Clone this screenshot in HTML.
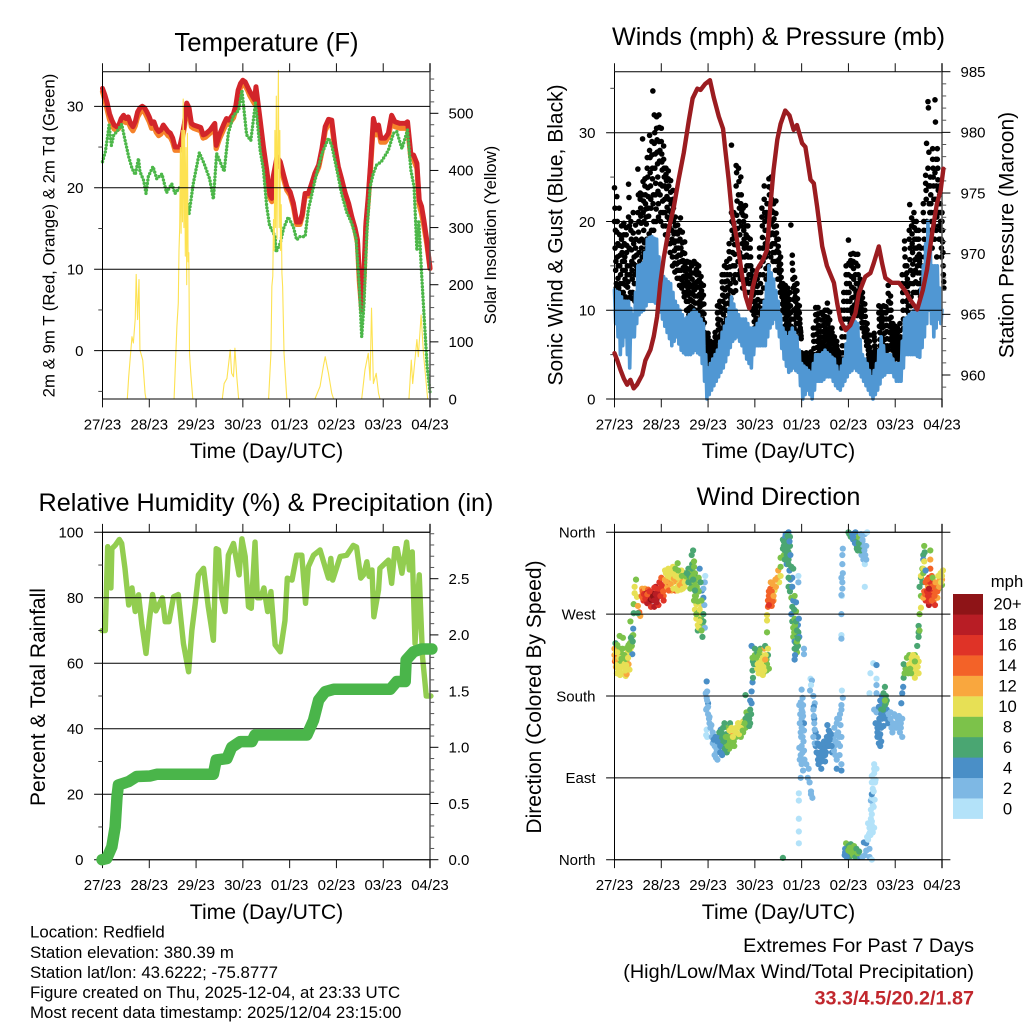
<!DOCTYPE html>
<html lang="en">
<head>
<meta charset="utf-8">
<title>Redfield Station Meteogram</title>
<style>
html,body{margin:0;padding:0;background:#fff;}
svg{display:block;font-family:"Liberation Sans",Arial,sans-serif;fill:#000;}
</style>
</head>
<body>
<svg id="chart" xmlns="http://www.w3.org/2000/svg" width="1024" height="1024" viewBox="0 0 1024 1024">
<rect x="0" y="0" width="1024" height="1024" fill="#ffffff"/>
<g id="panel-temp"></g>
<g id="panel-wind"></g>
<g id="panel-rh"></g>
<g id="panel-dir"></g>
<g id="colorbar"></g>

<text x="266.5" y="51" font-size="25.7" text-anchor="middle">Temperature (F)</text>
<text x="778.5" y="45" font-size="25.2" text-anchor="middle">Winds (mph) &amp; Pressure (mb)</text>
<text x="266" y="511" font-size="25.2" text-anchor="middle">Relative Humidity (%) &amp; Precipitation (in)</text>
<text x="778.5" y="505" font-size="25.2" text-anchor="middle">Wind Direction</text>

<text x="266.5" y="458" font-size="21.2" text-anchor="middle">Time (Day/UTC)</text>
<text x="778.5" y="458" font-size="21.2" text-anchor="middle">Time (Day/UTC)</text>
<text x="266.5" y="919" font-size="21.2" text-anchor="middle">Time (Day/UTC)</text>
<text x="778.5" y="919" font-size="21.2" text-anchor="middle">Time (Day/UTC)</text>

<text transform="translate(54.5 235.5) rotate(-90)" font-size="16.8" text-anchor="middle">2m &amp; 9m T (Red, Orange) &amp; 2m Td (Green)</text>
<text transform="translate(496 235) rotate(-90)" font-size="16.7" text-anchor="middle">Solar Insolation (Yellow)</text>
<text transform="translate(562.5 235) rotate(-90)" font-size="21" text-anchor="middle">Sonic Wind &amp; Gust (Blue, Black)</text>
<text transform="translate(1013.5 235) rotate(-90)" font-size="21" text-anchor="middle">Station Pressure (Maroon)</text>
<text transform="translate(45 697) rotate(-90)" font-size="21" text-anchor="middle">Percent &amp; Total Rainfall</text>
<text transform="translate(541 697) rotate(-90)" font-size="21" text-anchor="middle">Direction (Colored By Speed)</text>

<g font-size="16.83">
<text x="30" y="937.5">Location: Redfield</text>
<text x="30" y="958">Station elevation: 380.39 m</text>
<text x="30" y="978">Station lat/lon: 43.6222; -75.8777</text>
<text x="30" y="998">Figure created on Thu, 2025-12-04, at 23:33 UTC</text>
<text x="30" y="1018">Most recent data timestamp: 2025/12/04 23:15:00</text>
</g>
<g text-anchor="end">
<text x="974" y="952" font-size="19.8">Extremes For Past 7 Days</text>
<text x="974" y="978" font-size="19.8">(High/Low/Max Wind/Total Precipitation)</text>
<text x="974" y="1004.5" font-size="19.8" font-weight="bold" fill="#c1272d">33.3/4.5/20.2/1.87</text>
</g>

<script>
// ---------- shared axis labels ----------
const dayLabels = ['27/23','28/23','29/23','30/23','01/23','02/23','03/23','04/23'];

// ---------- temperature panel ----------
const tempDays = [0,.05,.1,.15,.2,.25,.3,.35,.4,.45,
 .5,.55,.6,.65,.7,.75,.8,.85,.9,.95,
 1,1.05,1.1,1.15,1.2,1.25,1.3,1.35,1.4,1.45,
 1.5,1.55,1.6,1.65,1.7,1.75,1.8,1.85,1.9,1.95,
 2,2.1,2.15,2.2,2.3,2.4,2.43,2.5,2.6,2.65,
 2.7,2.8,2.85,2.9,2.95,3,3.05,3.1,3.15,3.25,
 3.28,3.37,3.44,3.51,3.58,3.62,3.65,3.73,3.8,3.87,
 3.94,4.01,4.08,4.15,4.22,4.27,4.33,4.4,4.47,4.54,
 4.62,4.69,4.76,4.83,4.9,4.97,5.04,5.11,5.19,5.26,
 5.33,5.4,5.45,5.49,5.54,5.59,5.63,5.68,5.73,5.79,
 5.85,5.9,5.95,6.04,6.11,6.18,6.25,6.36,6.47,6.52,
 6.59,6.65,6.72,6.77,6.82,6.87,6.93,7];
const temp2m = [32.2,31.4,30.4,29.1,28.3,27.7,27.5,27.7,28.5,28.9,
 28.5,28.7,27.9,27.5,28.1,29.3,29.8,30,29.8,29.3,
 28.7,27.9,28.1,27.3,26.9,27.1,27.7,27.3,26.9,26.7,
 26.1,25,25,25,26.3,27.9,30.4,29.8,27.9,27.7,
 27.6,27.4,26.5,26.6,27.1,27.9,25.2,26.5,27.9,28.5,
 28.3,29.1,30.1,32,32.8,33.2,33,32.4,31.8,30.8,
 32.4,28.3,25,22.2,19.1,18.7,21.4,23.8,23.2,21.6,
 20.1,19.5,18.1,15.8,15.8,16.8,19.3,19.3,20.5,21.8,
 22.8,24.8,27.5,28.4,28.3,25,22.6,21.1,19.3,18.1,
 16.4,15,13.6,9.5,5,9.9,15.6,18.9,23,28.5,
 27.1,27.7,26.1,26.1,26.7,28.9,28.1,27.9,27.9,28.1,
 24.2,24,23,18.5,17.7,16,13.6,10.1];
const temp9m = [31.8,30.8,29.6,28.4,27.7,27.2,27.1,27.3,28,28.4,
 28,28.1,27.4,27,27.6,28.7,29.2,29.5,29.3,28.7,
 28.1,27.3,27.5,26.8,26.4,26.6,27.2,26.8,26.4,26.2,
 25.6,24.6,24.6,24.6,25.9,27.4,29.8,29.3,27.5,27.3,
 27.2,27,26.1,26.2,26.7,27.4,24.8,26,27.3,27.9,
 27.8,28.6,29.6,31.5,32.3,32.8,32.5,32,31.3,30.3,
 31.8,27.8,24.6,21.8,18.7,18.3,21,23.2,22.7,21.1,
 19.7,19.1,17.7,15.5,15.5,16.5,19,19,20.2,21.5,
 22.5,24.4,27,27.9,27.8,24.6,22.2,20.8,19,17.8,
 16.1,14.7,13.2,8.5,5,8.9,15.2,18.4,22.5,27.9,
 26.5,27.1,25.6,25.6,26.2,28.3,27.5,27.3,27.3,27.5,
 23.7,23.4,22.4,17.9,16.8,15.3,13.2,10.1];
const dewDays = [0,.06,.11,.14,.19,.24,.31,.41,.48,.56,
 .63,.7,.77,.8,.88,.93,.98,1.08,1.16,1.27,
 1.37,1.48,1.55,1.66,1.77,1.85,1.94,2.07,2.17,2.29,
 2.37,2.44,2.5,2.6,2.69,2.8,2.91,2.98,3.08,3.17,
 3.27,3.37,3.44,3.51,3.57,3.69,3.71,3.8,3.87,3.97,
 4.08,4.15,4.22,4.33,4.4,4.54,4.69,4.83,4.9,5.01,
 5.11,5.22,5.33,5.42,5.49,5.54,5.59,5.65,5.72,5.79,
 5.86,5.96,6.11,6.22,6.29,6.4,6.52,6.59,6.66,6.72,
 6.76,6.82,6.87,6.94,7];
const dewPoint = [23.2,24.4,26.3,27.7,25.2,26.5,26.9,27.8,25.9,23.8,
 22.4,21.6,23.6,22,20.9,19.3,21.4,22.6,21.1,21.7,
 19.4,20.5,19.3,20.1,19.3,16.8,20.5,24.3,23,21.1,
 18.6,24.2,23.4,22,26.7,28.9,29.5,32,26.5,25.8,
 30.4,24.6,22.2,17.7,15.4,14,12.1,13.2,15,16.4,
 15.2,13.6,14,14,17.3,20.9,24.2,26.1,25.2,22.2,
 19.3,17,15.6,13.8,7.8,1.7,5.8,14.4,20.1,21.8,
 22.8,23.2,24.6,26.7,26.9,24.8,27.1,22.2,20.1,12.3,
 16,9.5,4.6,-2,-5.1];
const solarDays = [.53,.56,.63,.66,.7,.72,.75,.78,.8,.86,.91,.93,
 1.53,1.59,1.62,1.635,1.65,1.665,1.68,1.695,1.71,1.725,1.74,1.755,1.77,1.785,1.8,1.815,1.83,1.845,1.86,1.875,1.89,1.93,
 2.56,2.6,2.66,2.73,2.76,2.8,2.83,2.87,2.91,
 3.55,3.6,3.62,3.64,3.655,3.67,3.685,3.7,3.715,3.73,3.745,3.76,3.775,3.79,3.805,3.82,3.835,3.85,3.88,3.94,
 4.54,4.65,4.72,4.76,4.83,4.9,4.94,
 5.54,5.61,5.68,5.72,5.75,5.79,5.85,5.9,5.93,
 6.55,6.6,6.63,6.72,6.75,6.81,6.86,6.92,6.95];
const solarValues = [0,39,109,98,141,218,139,209,86,68,10,0,
 0,127,168,260,300,440,290,470,310,525,300,470,250,440,200,465,240,256,80,60,41,0,
 0,27,36,86,45,39,89,39,0,
 0,80,197,215,314,260,470,300,530,280,450,575,300,470,260,340,220,197,80,0,
 0,22,57,74,45,10,0,
 0,51,80,33,159,27,45,10,0,
 0,68,27,104,74,147,80,27,0];
const tempTicks = [0,10,20,30];
const tempMinorTicks = [-5,5,15,25];
const solarTicks = [0,100,200,300,400,500];
const solarMinorTicks = [20,40,60,80,120,140,160,180,220,240,260,280,320,340,360,380,420,440,460,480,520,540,560];

// ---------- winds panel ----------
const gustStepDays = 0.01;
const gustSpeeds = [
23.8,21.5,19,15.5,13, 22.8,20,17.5,15,12.5, 21.5,18.5,16.2,14,12, 19.5,17.2,15.5,13,11.5, 19.8,17.5,16,14.5,12.8,
18.5,16.5,14,12.6,11.2, 24.2,22.7,19.5,15,12, 20,18,15.5,13.5,11.3, 21,17.5,16,14,11.5, 19.6,18,16.2,14.5,11,
25.9,23,20,17.8,15.5, 23.2,21.5,19.8,18,16, 29.3,24.5,22.3,20,17.6, 24.8,23,21.4,19.7,18, 27.2,25,22.8,20.6,18.6,
29.7,27.2,24,21.5,19, 29,26,34.7,23,20, 32,30,27.6,24.3,21.4, 31.8,29.2,26.5,23.4,20.5, 32,30.6,28,24.2,21,
30.5,27.6,25.8,22.3,19.5, 28.5,26,24,21,18.5, 26,24.6,22.8,20.5,17.5, 25.7,24,21.2,19.3,16.5, 24.6,22,20.2,18,15,
23.5,21.5,18.6,16.7,14.3, 20.5,18.8,17,15.2,13.6, 19.6,17.8,16.2,14.5,12.8, 19,20.4,17,15.5,13.4, 18.8,16.5,14.8,13,11.5,
17.7,15.2,13.6,12,10, 15.5,14,12.5,11,9.5, 15.4,13.8,12,10.4,9, 15,13.5,11.8,10.2,9.3, 15.5,13,11.6,10,8.6,
15.2,14,12.6,10.8,9.2, 15,13.4,11.8,10.4,9, 13.8,12.2,10.6,9,7.5, 12.8,10.7,8.6,6.5,5, 7,5.5,4,3,2,
7.4,6.5,5.5,4.5,3.5, 6.5,5.7,4.8,4,3.5, 6.3,5.5,4.8,4.2,3.4, 7.5,6.5,5.6,4.8,4, 10.5,9,7.8,6.5,5,
11,9.8,8,6.7,5.2, 14,12.5,11,9.5,7.5, 15,13.2,11.5,10,8, 15.5,14,12.6,10.8,9, 17.5,15.8,14,12.2,10.5,
28.6,20,18,15,12, 21,18.5,16.3,14,12.2, 26.3,25.5,22.3,19.2,15.5, 26,24.5,21.5,18.5,14.5, 25,23,21,17.5,13.5,
21.5,20,18,16,13, 21.8,19.5,17.5,15,12, 19.5,17,15,13,11, 18,16,14,12,10, 14.5,12.5,11,9.5,8,
13,11,10,8.2,7.5, 13.5,12,10.5,9,8, 17,15,13,11,9.5, 21.5,19.5,17,14,11, 24,21,19,16,13.5,
20.5,22,18,16.5,14, 24.8,23,21,18.5,16, 25,22.5,20,17.5,15.5, 22,20.3,18.5,16.5,14.5, 22.3,19.5,18,15.5,13.5,
18,16.5,15,13.5,12, 16,14.5,13,11.5,10, 13,11.8,10.5,9,7.5, 12.8,11.5,10,8.5,7, 12.5,11,9.5,8,6.8,
12,10.5,19.6,9,7.5, 16.2,14.5,12.5,10,8, 13.7,12,11,9.5,7.6, 13,11.3,10,8.5,7, 10.5,9,8,7.5,6.8,
5.2,4.6,4,3.4,3, 5,4.4,3.8,3.2,3, 5.2,4.2,3.8,3.5,3, 4.7,4,3.5,3,2.5, 5.3,4.6,3.8,3.2,2.6,
8,6.5,5,4.2,3.5, 10.3,8.8,7.3,5.8,4.5, 10.3,9,7.6,6,5, 8.2,7,9.7,5.8,5, 9.5,8.3,7,6,5,
10,8.7,7.4,6,5, 10.8,9.2,7.8,6.4,5.2, 9.8,8,7,6.2,5, 8,7,6.2,5,4.5, 7,6,5.2,4.2,4,
6.5,5.6,4.8,4,3.5, 5.3,4.6,4,3.5,3, 10,8,6,4.5,3.5, 12,10,8,6,4.5, 15,13,11,9,7,
17.9,15.3,13,11,9, 16.3,15,12.6,10.3,9, 16.4,14.7,12.4,10.6,9.5, 16.3,15.3,13,11,9.8, 16.3,14,12.2,10.4,9.5,
13.5,11.7,10.3,9.2,8, 12,10.8,9.3,8,7, 10.7,9.3,8,7,6, 8.5,7.2,6,5,4.3, 7.2,5.8,4.8,4,3.2,
5.2,4.4,3.6,3,2.5, 7.4,6.6,5.5,4,2.8, 5.5,4.8,4,3.2,2.5, 10.5,9,7.5,6,4.5, 10.3,9.2,8,6.5,5,
10.5,9,7.4,6,5, 10.4,9,7.6,6,5.5, 12.8,11,9,7.5,6, 11.6,10,8.5,7,5.5, 8.5,7.5,6.5,5.5,4.5,
8.2,7.2,6.3,5.5,4.8, 8,7,6,5.2,4.3, 8.5,7,6,5,4, 14,12,10,8,6, 17.8,16,14,12,10,
15,13.5,12,10.5,9, 19,21.9,17,14.5,11.5, 20.4,18.6,16.5,14,12, 21,19.3,17,14.5,12, 20,18,16,14.2,12,
19,17.2,15.5,13,11.5, 17,15,13.5,11,10, 22,20,18,16,14, 25.2,23.5,28.8,19,16, 33.5,32.8,27.8,24,21,
25,23,21,19,17, 28.2,26,24,21,18, 33.7,31.2,27,24,20.5, 28.2,26,23.5,21,18, 24,22,20,18,16,
21,19,16.5,14,12.5];
const gustDenseStepDays = 0.0125;
const gustDenseSpeeds = [
20,17,14.5,12.5, 18.8,16,13.6,11.5, 17.3,15,13,11, 18,16.5,14.5,12, 18.5,15.5,13.5,11.5,
19.3,17.3,15,13.2, 20.5,17,14,11.5, 19,16.8,14.5,12, 18.7,15.2,13,11, 17,15,13,11,
21,18.8,16.5,14, 22.5,20.6,17,15, 23,21,19,16.5, 24,22,20.5,17, 26,23.8,21.5,17.5,
28,25.5,22.5,18, 27.5,24.8,22,19, 28.8,26,23,20, 30.5,27.8,25,22, 29,26.8,23,20,
29,26.7,24,21, 27,25,22.5,19.5, 25.3,23.7,21.6,18.5, 24.8,22.5,20.2,17.5, 23.3,21,19,16,
22.5,20,17.6,15.3, 19.5,17.8,16,14.5, 18.6,17,15.4,13.6, 18,16.2,14.5,12.5, 17.6,15.6,13.8,12,
16.4,14.4,12.8,11, 14.7,13.2,11.7,10.2, 14.6,12.9,11.2,9.7, 14.2,12.6,11,9.6, 14.2,12.3,10.8,9.3,
14.6,13.2,11.6,10, 14.2,12.6,11,9.6, 13,11.4,9.8,8.3, 11.7,9.6,7.5,5.7, 6.3,4.7,3.5,2.5,
7,6,5,4, 6.1,5.2,4.4,3.7, 5.9,5.1,4.5,3.8, 7,6,5.2,4.4, 9.7,8.4,7,5.7,
10.4,8.9,7.3,5.9, 13.2,11.7,10.2,8.5, 14,12.3,10.7,9, 14.8,13.3,11.7,9.9, 16.6,14.9,13,11.3,
21,19,16.5,13.5, 19.7,17.4,15,13.1, 24,20.7,17.3,14, 23,20,16.5,13.5, 22,19.5,16,12.5,
20.7,19,17,14.5, 20.6,18.5,16.2,13.5, 18.2,16,14,12, 17,15,13,11, 13.5,11.7,10.2,8.7,
12,10.5,9.1,7.8, 12.7,11.2,9.7,8.5, 16,14,12,10.2, 20.5,18.2,15.5,12.5, 22.5,20,17.5,14.7,
21,19,17.2,15, 23.9,22,19.7,17.2, 23.7,21.2,18.7,16.5, 21,19.4,17.5,15.5, 20.9,18.7,16.7,14.5,
17.2,15.7,14.2,12.7, 15.2,13.7,12.2,10.7, 12.4,11.1,9.7,8.2, 12.1,10.7,9.2,7.7, 11.7,10.2,8.7,7.4,
11.2,9.7,8.2,7, 15.3,13.5,11.2,9, 12.8,11.5,10.2,8.5, 12.2,10.6,9.2,7.7, 9.7,8.5,7.7,7.1,
4.9,4.3,3.7,3.2, 4.7,4.1,3.5,3.1, 4.7,4,3.6,3.2, 4.3,3.7,3.2,2.7, 4.9,4.2,3.5,2.9,
7.2,5.7,4.6,3.8, 9.5,8,6.5,5.1, 9.6,8.3,6.8,5.5, 7.6,6.4,8.9,5.4, 8.9,7.6,6.5,5.5,
9.3,8,6.7,5.5, 10,8.5,7.1,5.8, 8.9,7.5,6.6,5.6, 7.5,6.6,5.6,4.7, 6.5,5.6,4.7,4.1,
6,5.2,4.4,3.7, 5,4.3,3.7,3.2, 9,7,5.2,4, 11,9,7,5.2, 14,12,10,8,
14,12,10,8.5, 15.6,13.8,11.4,9.6, 15.5,13.5,11.5,10, 14,12,10.5,9.4, 15,13,11.3,9.9,
12.6,11,9.7,8.6, 11.4,10,8.6,7.5, 10,8.6,7.5,6.5, 7.8,6.6,5.5,4.6, 6.5,5.3,4.4,3.6,
4.8,4,3.3,2.7, 7,6,4.7,3.4, 5.1,4.4,3.6,2.8, 9.7,8.2,6.7,5.2, 9.7,8.6,7.2,5.7,
9.7,8.2,6.7,5.5, 9.7,8.3,6.8,5.7, 11.9,10,8.2,6.7, 10.8,9.2,7.7,6.2, 8,7,6,5,
7.7,6.7,5.9,5.1, 7.5,6.5,5.6,4.7, 7.7,6.5,5.5,4.5, 13,11,9,7, 16.9,15,13,11,
14.2,12.7,11.2,9.7, 18,15.7,13,10.5, 19.5,17.5,15.2,13, 20,18,15.7,13.2, 19,17,15,13,
18,16.3,14.2,12.2, 16,14.2,12.2,10.5, 21,19,17,15, 24.3,22.5,20,17.5, 26,24,22,19,
24,22,20,18, 27,25,22.5,19.5, 25.5,22.5,19,16, 27,24.7,22,19.5, 23,21,19,17,
20,17.7,15,13.2];
const windStepDays = 0.025;
const windSpeeds = [
 12.3,8.5,12.1,7, 12,5,11.5,6, 11,7,11,5, 11,3.5,10.2,7, 9.5,7,12,8.5,
 15,9.5,15.1,9.8, 15.3,10,16.5,10.5, 18,11,18.2,11, 18.3,11,18.1,10.8, 18,10.5,16,9.8,
 14,9,13.8,8.2, 13.5,7.5,13.2,6.8, 13,6,12,6.5, 11,7,10.5,6.2, 10,5.5,9.5,5.2,
 9,5,9.2,5, 9.5,5,9.7,5.2, 10,5.5,9.8,5.2, 9.5,5,9,4, 8.5,2,5,0,
 3.5,.5,4,1, 4.5,1.5,5,2, 5.5,2.5,6.5,3, 7.5,3.5,8.2,4.2, 9,5,10.2,5.8,
 11.5,6.5,10.7,6.8, 10,7,9.5,6.5, 9,6,9,5.2, 9,4.5,8.5,4, 8,3.5,8,5,
 8,6,8.5,6, 9,6,10,6, 11,6,13,7, 15,8,14.2,8.5, 13.5,9,12.2,8,
 11,7,9.5,5.7, 8,4.5,7.5,3.7, 7,3,7.5,3.2, 8,3.5,7.5,3.2, 7,3,5.5,1.5,
 4,0,3.7,.5, 3.5,1,3.2,.5, 3,0,4,1, 5,2,5,2, 5,2,5.2,2.2,
 5.5,2.5,5.2,2.5, 5,2.5,4.7,2, 4.5,1.5,3.7,1.2, 3,1,3.7,1.5, 4.5,2,6.2,2.5,
 8,3,8.5,3.2, 9,3.5,8.7,3.2, 8.5,3,6.7,2.5, 5,2,4.5,1.5, 4,1,3.2,.5,
 2.5,0,3.2,.5, 4,1,5.5,1.7, 7,2.5,6,2.7, 5,3,5,3, 5,3,4.5,2.5,
 4,2,4,2, 4,2,6.5,3.5, 9,5,9.2,5, 9.5,5,9.7,5, 10,5,10,4.8,
 10,4.7,12.5,5.8, 15,7,17.5,8.5, 20,10,17.5,8.5, 15,7,15,8, 15,9,12.5,8.5,
 10];
const pressureDays = [0,.06,.13,.2,.27,.34,.41,.48,.59,.66,
 .77,.84,.91,.98,1.05,1.16,1.27,1.37,1.48,1.59,
 1.67,1.77,1.84,1.94,2.04,2.12,2.23,2.32,2.37,2.44,
 2.51,2.62,2.73,2.8,2.88,2.96,3.05,3.16,3.26,3.33,
 3.4,3.48,3.55,3.65,3.74,3.83,3.9,4.01,4.08,4.19,
 4.26,4.33,4.44,4.54,4.69,4.76,4.83,4.94,5.04,5.15,
 5.22,5.36,5.47,5.54,5.65,5.72,5.79,5.93,6.08,6.22,
 6.32,6.47,6.59,6.68,6.79,6.89,6.97,7.03];
const pressureValues = [961.8,961.2,960.4,959.7,959.2,959.6,958.9,959.2,960,961.2,
 962.1,963.2,964.8,967.6,969.6,972,973.9,976.1,978.3,981,
 982.8,983.6,983.5,984,984.3,982.9,981.3,980.3,978.5,976.1,
 973.3,971.1,968.1,966.5,965.5,967.3,968.7,969.4,970.3,973.9,
 976.9,979.4,980.7,981.8,981.4,980.2,980.6,979.1,978.8,976.1,
 975.8,973.9,970.6,969,967.6,965.9,964.5,963.7,964.1,965.1,
 966.7,968.1,968.4,969.2,970.6,969.2,968,967.6,967.6,966.9,
 966.2,965.4,967,968.7,971.7,974.1,975.2,977];
const windTicks = [0,10,20,30];
const windMinorTicks = [5,15,25,35];
const pressureTicks = [960,965,970,975,980,985];
const pressureMinorTicks = [959,961,962,963,964,966,967,968,969,971,972,973,974,976,977,978,979,981,982,983,984];

// ---------- humidity panel ----------
const humidityDays = [-.01,.06,.11,.18,.2,.27,.36,.41,.48,.56,
 .63,.7,.77,.84,.93,1,1.07,1.14,1.28,1.34,
 1.42,1.52,1.62,1.73,1.84,1.91,1.98,2.05,2.16,2.26,
 2.37,2.43,2.48,2.55,2.62,2.69,2.8,2.92,2.98,3.05,
 3.12,3.18,3.26,3.31,3.38,3.45,3.53,3.6,3.69,3.8,
 3.9,3.95,4.05,4.15,4.26,4.34,4.4,4.51,4.65,4.83,
 4.88,4.92,5.08,5.22,5.36,5.43,5.52,5.58,5.65,5.7,
 5.76,5.8,5.9,5.93,6.11,6.18,6.25,6.3,6.4,6.5,
 6.56,6.62,6.68,6.77,6.84,6.92,7.02];
const humidityValues = [70,70,95.6,83,95,96,97.8,96.6,89,77.8,
 83,75.8,80.9,72,63,73,81,76,80,72.7,
 72.7,80.3,81,66,57.4,70,78,87,89,77.3,
 67,95,94.6,80,75.8,93,96.6,87,98,92.6,
 77.3,76.8,97,80,80,83,75.8,81.9,65.6,63.5,
 73,86,85.4,93,93,78.3,89.5,93,94.6,86,
 92,85.4,92.6,93,96,95.5,86,87,91,86.5,
 88.5,74.2,82.4,89,91.5,84.4,95,95,87.5,97,
 88.5,94,66,87,62,50,50];
const rainDays = [-.01,.09,.2,.27,.31,.34,.56,.73,1.02,1.16,2.37,2.43,2.66,2.76,2.94,3.19,3.26,4.37,4.51,4.62,4.76,4.94,6.15,6.29,6.47,6.49,6.65,6.82,7.04];
const rainTotals = [0,.01,.115,.29,.56,.665,.695,.74,.745,.76,.76,.887,.9,1,1.05,1.05,1.11,1.11,1.24,1.42,1.495,1.516,1.516,1.585,1.585,1.777,1.85,1.875,1.875];
const humidityTicks = [0,20,40,60,80,100];
const humidityMinorTicks = [10,30,50,70,90];
const rainTicks = [0,0.5,1,1.5,2,2.5];
const rainLabels = ['0.0','0.5','1.0','1.5','2.0','2.5'];
const rainMinorTicks = [.1,.2,.3,.4,.6,.7,.8,.9,1.1,1.2,1.3,1.4,1.6,1.7,1.8,1.9,2.1,2.2,2.3,2.4,2.6,2.7,2.8,2.9];

// ---------- wind direction panel ----------
const directionTicks = [0,90,180,270,360];
const directionLabels = ['North','East','South','West','North'];
const mphColors = ['#b3e2f9','#7eb8e4','#4a8fc7','#4aa672','#7cc24a','#e7e055','#f9a73e','#f36228','#df3327','#b81d25','#8e1417'];
const mphLabels = ['0','2','4','6','8','10','12','14','16','18','20+'];
const dirDays = [
 0,0,.01,.02,.03,.03,.05,.06,.07,.08, .09,.1,.11,.11,.12,.12,.14,.16,.18,.2, .22,.24,.26,.26,.28,.3,.3,.32,.34,.36, .38,.38,.4,.4,.34,.41,
 .46,.43,.43,.48,.41,.5,.53,.55,.5,.59,
 .58,.6,.62,.65,.68,.7,.72,.75,.78,.8, .82,.85,.85,.88,.9,.92,.94,.96,.98,1, 1.02,1.05,1.05,1.08,1.1,1.12,1.15,1.15,
 1.08,1.2,1.22,1.25,1.25,1.28,1.3,1.3,1.32,1.35, 1.35,1.38,1.4,1.42,1.45,1.48,1.5,1.52,
 1.5,1.55,1.58,1.6,1.62,1.65,1.65,1.66,1.66,1.68, 1.7,1.7,1.72,1.75,1.72,1.75,1.78,1.8,1.82,1.94, 1.87,1.7,1.72,1.75,1.78,1.8,1.85,1.85,1.88,1.88, 1.85,1.9,1.92,1.9,1.93,1.9,1.93,1.78,1.75,1.82,
 1.97,1.95,1.97,1.98,2,1.97,1.96,2,2.03,2.03, 1.97,1.96,1.98,2.07,2.1,2.12,2.15,2.17,2.2,2.2, 2.22,2.25,2.22,2.27,2.28,2.3,2.3,2.35,2.38,2.4, 2.4,2.42,2.45,2.45,2.47,2.5,2.5,2.55,2.55,2.6, 2.6,2.65,2.68,2.7,2.72,2.75,2.75,2.8,2.8,2.82, 2.85,2.88,2.9,2.9,2.93,2.8,2.9,2.93,2.95,2.96,
 2.95,2.96,2.93,2.95,3,3.02,3.05,3.05,3.08,3.1, 3.12,3.15,3.15,3.18,3.2,3.2,3.25,3.25,3.28,3.3, 3.22,3.17,3.1,
 3.26,3.26,3.26,3.28,3.32,3.36,3.3,3.35,3.33,3.38, 3.42,3.45,3.4,3.48,3.5,3.55,3.52,3.55,
 3.55,3.6,3.6,3.62,3.65,3.65,3.68,3.7,3.7,3.72, 3.62,3.72,3.75,3.75,3.65,3.72,3.68,3.72,3.74,3.78, 3.76,3.8,3.82,3.78,3.72,3.75,3.78,3.8,3.82,3.85, 3.88,3.78,3.8,3.82,3.85,3.88,3.82,3.85,3.9,3.92, 3.93,3.85,3.88,3.85,3.9,3.92,3.95,4.05,4.05,3.93, 3.93,3.6,
 4,4.02,3.98,4.03,4.02,4,4.05,4.05,3.98,4, 4,3.95,3.98,4.02,4.05,4.1,4.15,4.13,3.98,4.17, 4.2,4.2,4.23,3.94,3.94,3.94,3.94,3.94,4.19,4.22, 4.2,4.18,4.25,4.28,
 4.26,4.27,4.3,4.35,4.3,4.32,4.35,4.38,4.4,4.42, 4.42,4.45,4.48,4.5,4.52,4.55,4.55,4.58,4.6,4.62, 4.65,4.68,4.7,4.72,4.75,4.78,4.8,4.75,4.82,4.85, 4.82,4.85,4.75,4.85,4.85,4.86,4.88,4.85,
 4.88,4.87,4.87,4.88,4.87,4.85,4.87,4.86,4.85,4.85, 4.85,4.85,
 4.92,4.93,4.95,4.98,4.98,5,5.02,5.05,5.05,5.08, 5.1,5.12,5.15,5.18,5.22,5.25,5.3,5.35,5.38,5.33, 5.38,5.45,5.45,5.5,5.42,5.47,
 4.93,4.96,5,5.03,5.07,5.1,5.13,5.17,5.2,5.23,
 5,5.02,5.05,5.08,5.1,5.15,5.15,5.18,5.2,5.22, 5.25,5.27,5.28,5.3,5.32,5.35,5.38,5.32,5.35,5.38, 5.4,5.35,
 5.4,5.45,5.42,5.48,5.5,5.55,5.5,5.52,5.48,5.5, 5.5,5.52,5.5,5.54,5.55,5.55,5.58,5.6,5.55,5.57, 5.55,5.53,5.6,5.47,5.6,5.45,5.6,5.6,
 5.55,5.6,5.65,5.68,5.72,5.72,5.75,5.78,5.8,5.8, 5.82,5.78,5.72,5.7,5.65,5.62,5.65,5.68,5.68,5.7, 5.75,5.8,5.85,5.85,5.95,5.98,6,6.02,6.05,6.08, 6.1,6.12,6.15,6.15,6.13,6.15,6.17,6.18,6.2,6.22, 6.18,6.25,6.28,
 6.3,6.3,6.35,6.38,6.4,6.42,6.42,6.45,6.5,6.5,
 6.47,6.5,6.5,6.52,6.5,6.52,6.55,6.55,6.52,6.55, 6.58,6.55,6.62,6.6,6.6,6.63,6.62,6.6,
 6.58,6.6,6.62,6.65,6.7,6.72,6.72,6.7,6.65,6.72, 6.75,6.75,6.75,6.75,6.78,6.65,6.8,6.8,6.82,6.85, 6.85,6.88,6.9,6.92,6.95,6.93,6.97,7,7.02,7,
 .02,.04,.06,.08,.1,.12,.15,.17,.19,.21, .23,.25,.27,.29,.31,.33,.35,.37,.39,.05,
 .6,.63,.66,.69,.72,.75,.78,.8,.82,.85, .88,.9,.92,.95,.98,1.01,1.04,.7,.75,.85,
 1.1,1.14,1.18,1.2,1.23,1.27,1.3,1.33,1.36,1.4, 1.43,1.46,1.5,1.16,1.26,1.36,1.44,
 1.55,1.6,1.65,1.7,1.58,1.62,1.68,1.72,1.76,1.8, 1.84,1.74,1.78,1.82,1.86,1.9,1.68,1.72,1.8,1.86,
 1.98,2,2.02,2.05,2.08,2.1,2.12,2.14,2.16,2.18, 2.14,2.18,2.2,2.24,2.26,2.28,2.32,2.34,2.36,2.38, 2.42,2.44,2.46,2.5,2.53,2.56,2.6,2.64,2.66,2.7, 2.74,2.78,2.84,2.88,2.92,2.26,2.3,
 2.98,3,3.03,3.06,3.09,3.12,3.14,3.17,3.2,3.23, 3.26,3.28,3.12,3.18,3.22,
 3.28,3.3,3.32,3.34,3.36,3.38,3.3,3.34,3.4,3.44,
 3.62,3.64,3.66,3.68,3.7,3.64,3.68,3.72,3.66,3.7, 3.74,3.76,3.72,3.8,3.84,3.86,3.88,3.9,3.84,3.9, 3.86,3.92,3.88,3.94,
 3.95,3.97,4,4.03,3.96,3.99,4.02,4.04,4.06,3.96, 4,4.03,
 4.25,4.26,4.27,4.28,4.25,4.28,
 4.34,4.37,4.4,4.43,4.46,4.49,4.52,4.54,4.57,4.6, 4.63,4.66,4.69,4.72,4.75,4.78,4.81,4.36,4.44,4.5, 4.58,4.64,4.7,4.76,4.8,4.83,
 5.1,5.14,5.18,5.22,5.26,5.3,5.34,5.36,
 5.5,5.52,5.54,5.56,5.48,5.5,5.52,5.46,5.44,
 5.58,5.62,5.66,5.7,5.74,5.78,5.82,5.66,5.7,5.74, 5.78,5.62,5.9,5.92,5.94,6,6.04,6.08,6.12,5.9,
 6.32,6.36,6.4,6.44,6.48,6.34,6.46,6.38,6.42,
 6.6,6.64,6.68,6.7,6.74,6.78,6.82,6.86,6.9,6.94, 6.98,6.68,6.76,6.84,6.92,7,6.72,6.78];
const dirDegrees = [
 232,225,218,238,228,212,222,236,215,205, 228,208,232,246,218,203,212,226,244,205, 216,202,204,220,228,236,215,209,232,240, 226,246,247,254,262,271,
 308,300,293,289,281,279,272,268,271,298,
 290,295,285,298,290,282,297,288,278,293, 285,292,278,300,286,296,280,305,295,310, 300,290,285,308,315,300,320,305,
 318,310,296,322,305,316,296,320,306,326, 296,303,312,297,306,315,300,310,
 315,310,320,305,316,300,335,320,325,340, 328,300,315,310,290,281,295,310,320,312, 296,285,275,265,258,272,280,265,258,245, 270,288,280,262,255,298,305,252,270,262,
 196,183,178,185,172,166,165,160,157,150, 143,137,135,148,140,136,128,112,110,125, 135,130,120,143,140,134,125,150,138,125, 118,145,130,122,150,136,125,142,130,145, 135,150,145,135,148,152,140,155,145,162, 150,147,150,165,172,181,175,185,195,200,
 208,218,235,222,225,215,228,210,205,218, 232,225,212,205,215,232,208,220,225,210, 235,203,230,
 250,263,269,278,282,279,290,292,298,303, 296,300,285,310,318,312,305,322,
 332,342,352,345,355,335,358,350,340,360, 335,330,345,355,345,335,325,325,318,322, 308,310,320,300,300,295,288,278,285,290, 283,270,262,255,265,273,245,240,247,258, 250,232,238,220,228,235,245,232,226,312, 305,2,
 187,178,173,170,162,155,150,142,140,145, 125,123,115,118,120,105,100,90,90,85, 75,72,68,73,65,45,31,18,199,197, 192,186,180,172,
 168,155,140,135,125,118,110,125,118,108, 100,120,130,115,125,148,135,125,140,132, 118,135,125,115,110,140,155,150,160,170, 125,135,100,105,98,186,178,165,
 342,335,325,315,305,310,298,290,291,270, 247,243,
 5,12,18,3,10,15,7,17,4,12, 5,15,3,8,5,3,3,5,18,19, 10,3,12,0,22,27,
 8,3,10,13,8,12,10,12,7,9,
 360,358,355,358,352,360,350,345,340,355, 345,358,335,350,345,358,345,330,325,330, 360,300,
 25,35,40,45,38,35,50,60,65,68, 72,78,85,75,85,95,88,100,100,85, 105,216,214,205,199,183,192,183,
 165,162,168,175,180,170,183,190,180,172, 165,160,155,165,150,140,128,125,138,145, 147,155,150,160,150,160,158,145,155,148, 140,150,135,155,172,183,190,200,205,210, 215,222,205,
 225,215,222,205,212,225,200,215,205,218,
 235,250,257,252,245,270,277,290,300,310, 320,312,345,335,330,338,328,320,
 305,315,295,285,292,280,284,300,305,310, 305,320,330,340,312,318,300,310,285,295, 280,300,288,305,310,298,315,308,318,302,
 220,214,228,210,222,212,221,232,213,225, 208,214,233,222,231,238,244,235,240,205,
 288,292,287,293,290,284,286,287,290,285, 292,283,289,298,290,302,295,292,295,299,
 306,312,318,303,313,309,312,299,310,302, 318,298,305,296,298,318,312,
 315,312,310,322,305,298,312,305,300,295, 305,290,284,275,285,270,308,296,255,252,
 175,168,155,145,135,128,132,125,135,122, 115,118,130,140,125,118,145,130,122,135, 125,135,142,145,135,125,140,150,138,145, 142,150,158,155,160,118,115,
 215,232,222,215,225,210,218,222,208,225, 215,232,205,212,220,
 285,295,288,285,295,284,280,305,290,308,
 350,340,348,342,345,330,335,338,358,356, 350,335,310,300,275,258,262,240,250,252, 225,243,232,265,
 170,160,165,158,150,135,135,130,110,110, 105,98,
 165,158,150,143,135,128,
 128,115,126,112,128,122,118,135,130,133, 138,125,120,130,138,128,115,105,118,108, 142,125,145,155,135,148,
 355,348,342,348,340,352,340,335,
 92,86,58,66,55,42,30,30,28,
 150,145,155,160,158,170,175,135,130,165, 175,135,155,145,140,148,150,158,145,162,
 210,218,215,207,212,205,222,225,218,
 288,292,295,290,295,300,292,305,295,300, 305,308,290,290,312,312,298,285];
const dirMph = [
 12,12,14,6,10,12,14,8,10,10, 8,10,8,8,8,10,10,8,8,10, 10,10,12,8,10,8,12,10,10,8, 4,6,8,4,8,6,
 8,10,10,10,8,12,14,12,6,12,
 14,14,16,12,16,18,14,18,16,18, 20,20,18,18,20,16,16,16,18,14, 16,14,16,12,10,12,10,14,
 10,10,12,10,10,10,14,8,12,8, 10,10,10,10,12,10,10,10,
 6,8,6,8,8,6,6,6,6,6, 8,8,8,6,8,10,8,8,4,0, 4,8,10,10,10,6,10,8,8,6, 10,4,2,6,2,2,2,6,8,10,
 4,2,2,2,4,2,2,2,2,2, 0,0,0,2,2,2,2,2,2,4, 4,6,4,4,6,6,6,6,6,8, 6,8,8,8,6,12,8,10,8,10, 8,10,10,8,8,10,8,6,8,8, 6,6,6,6,4,6,4,4,4,6,
 6,6,4,8,8,6,6,10,10,10, 6,10,10,8,10,12,8,8,6,8, 6,10,8,
 8,10,10,14,14,14,14,14,14,12, 10,12,12,12,12,10,10,8,
 8,6,6,6,4,6,6,6,6,4, 8,6,6,6,6,6,4,6,4,6, 4,4,6,6,6,6,8,6,4,8, 4,4,6,8,8,8,8,4,6,4, 6,6,6,4,8,6,4,2,2,0, 2,6,
 2,2,2,2,2,2,4,2,2,2, 2,2,2,2,2,2,2,2,2,2, 2,2,2,0,0,0,0,0,0,2, 0,2,2,2,
 4,4,4,4,4,4,4,4,4,4, 4,4,4,4,4,4,4,4,4,4, 4,2,2,2,2,2,2,2,2,2, 2,2,4,2,4,0,2,2,
 2,2,2,2,2,2,2,0,2,2, 0,2,
 4,4,8,4,6,6,8,6,6,8, 8,8,6,8,6,4,2,2,4,4, 2,2,2,0,0,0,
 4,4,8,8,8,8,8,6,8,6,
 6,6,6,4,4,4,6,6,6,8, 6,2,2,2,2,2,2,2,0,2, 0,0,
 0,0,0,0,0,0,0,0,2,0, 4,0,0,0,0,0,0,0,0,0, 0,0,4,0,0,0,2,2,
 2,2,4,4,4,4,6,6,6,8, 4,4,4,6,4,4,4,4,4,4, 4,4,4,2,2,2,2,2,2,2, 2,2,2,2,4,4,4,6,8,8, 6,8,8,
 8,10,10,10,10,8,10,10,10,10,
 6,6,6,8,6,8,10,8,6,6, 8,10,8,6,4,6,10,10,
 6,8,14,16,14,18,16,12,14,16, 16,14,12,8,14,4,10,8,14,14, 16,14,12,12,12,8,10,12,10,8,
 12,10,10,10,10,10,8,8,10,8, 10,10,8,10,8,8,6,8,6,10,
 14,16,16,18,16,18,20,18,20,18, 18,18,18,16,16,16,14,14,16,16,
 12,10,10,12,10,12,10,10,10,12, 10,10,10,14,10,8,8,
 6,6,8,8,6,8,8,8,8,8, 6,8,8,10,8,6,6,6,10,8,
 2,2,2,2,2,2,4,2,4,2, 2,2,4,6,4,4,6,6,6,8, 8,8,10,10,10,8,10,10,10,10, 8,8,6,6,6,4,4,
 6,6,8,10,8,10,10,10,10,10, 8,10,10,10,12,
 14,14,14,14,14,14,16,12,12,12,
 6,6,6,6,6,6,6,6,4,6, 4,4,6,4,6,8,6,8,8,6, 4,6,6,4,
 2,2,2,2,2,2,2,2,2,2, 2,2,
 2,2,2,2,2,2,
 4,4,4,4,4,4,4,4,4,4, 4,2,2,2,2,2,2,4,4,4, 4,4,2,2,2,2,
 4,4,6,6,6,2,2,2,
 0,0,0,0,0,0,0,0,0,
 4,4,4,4,4,6,6,4,4,6, 8,4,2,2,2,2,2,2,2,2,
 8,10,10,10,10,8,10,10,8,
 12,14,16,16,16,14,14,12,14,12, 10,14,16,14,10,10,18,14];

// ---------- helpers ----------
const NS = 'http://www.w3.org/2000/svg';
function make(tag, parent) {
  const node = document.createElementNS(NS, tag);
  parent.appendChild(node);
  return node;
}
function setAll(node, values) {
  for (const key in values) node.setAttribute(key, values[key]);
  return node;
}
function linear(v0, p0, v1, p1) {
  return v => p0 + (v - v0) * (p1 - p0) / (v1 - v0);
}
function dayScale(left) {
  return d => left + d * 327.5 / 7;
}
function pathFrom(xs, ys, xScale, yScale) {
  return xs.map((d, i) => (i ? 'L' : 'M') + xScale(d).toFixed(2) + ' ' + yScale(ys[i]).toFixed(2)).join('');
}
function pathFromStep(step, ys, xScale, yScale) {
  return ys.map((v, i) => (i ? 'L' : 'M') + xScale(i * step).toFixed(2) + ' ' + yScale(v).toFixed(2)).join('');
}
const LINE_STYLE = {fill: 'none', 'stroke-linejoin': 'round', 'stroke-linecap': 'round'};

function drawAxes(group, o) {
  const top = o.top, bottom = o.bottom, left = o.left, right = o.right;
  const x = dayScale(left);
  // frame
  const frame = setAll(make('path', group), {d: `M${left} ${top}H${right}M${left} ${top}V${bottom}H${right}`, fill: 'none', stroke: '#000', 'stroke-width': 1});
  
  
  const rightSpine = setAll(make('line', group), {x1: right, x2: right, y1: top - 8.4, y2: bottom + 8.4, stroke: '#555', 'stroke-width': 1.5});
  
  
  // x ticks
  dayLabels.forEach((label, i) => {
    const px = x(i);
    const tick = setAll(make('path', group), {d: `M${px} ${top - 8.4}V${top}M${px} ${bottom}V${bottom + 8.4}`, stroke: '#111', 'stroke-width': 1, fill: 'none'});
    
    
    const text = setAll(make('text', group), {x: px, y: bottom + 30.5, 'font-size': 15, 'text-anchor': 'middle'});
    text.textContent = label;
    
    
  });
  // left ticks + grid
  o.leftTicks.forEach((v, i) => {
    const py = o.leftScale(v);
    const grid = setAll(make('line', group), {x1: left - 8.4, x2: o.gridToRightTick ? right + 8.4 : right, y1: py, y2: py, stroke: '#000', 'stroke-width': 1});
    
    
    const text = setAll(make('text', group), {x: left - 19, y: py + 5.3, 'font-size': 15, 'text-anchor': 'end'});
    text.textContent = o.leftLabels ? o.leftLabels[i] : String(v);
    
    
  });
  (o.leftMinor || []).forEach(v => {
    const py = o.leftScale(v);
    const tick = setAll(make('line', group), {x1: left - 4.2, x2: left, y1: py, y2: py, stroke: '#444', 'stroke-width': 1});
    
    
  });
  // right ticks
  (o.rightTicks || []).forEach((v, i) => {
    const py = o.rightScale(v);
    const tick = setAll(make('line', group), {x1: right, x2: right + 8.4, y1: py, y2: py, stroke: '#000', 'stroke-width': 1});
    
    
    const text = setAll(make('text', group), {x: right + 18.5, y: py + 5.3, 'font-size': 15});
    text.textContent = o.rightLabels ? o.rightLabels[i] : String(v);
    
    
  });
  (o.rightMinor || []).forEach(v => {
    const py = o.rightScale(v);
    const tick = setAll(make('line', group), {x1: right, x2: right + 4.2, y1: py, y2: py, stroke: '#555', 'stroke-width': 1});
    
    
  });
}

// ---------- temperature panel drawing ----------
(function () {
  const group = document.getElementById('panel-temp');
  const x = dayScale(102.5);
  const tempY = linear(0, 350.67, 30, 106.33);
  const solarY = linear(0, 399, 500, 113.3);
  const lower = setAll(make('path', group), LINE_STYLE);
  setAll(lower, {d: pathFrom(tempDays, temp9m, x, tempY), stroke: '#f5822a', 'stroke-width': 5.2});
  
  
  const upper = setAll(make('path', group), LINE_STYLE);
  setAll(upper, {d: pathFrom(tempDays, temp2m, x, tempY), stroke: '#d2252a', 'stroke-width': 5});
  
  
  const dew = setAll(make('path', group), LINE_STYLE);
  setAll(dew, {d: pathFrom(dewDays, dewPoint, x, tempY), stroke: '#4cb749', 'stroke-width': 3.4, 'stroke-dasharray': '0 3.4'});
  
  
  const solar = setAll(make('path', group), {fill: 'none', 'stroke-linejoin': 'round'});
  setAll(solar, {d: pathFrom(solarDays, solarValues, x, solarY), stroke: '#fde252', 'stroke-width': 1.1});
  
  
  drawAxes(group, {top: 71.7, bottom: 399, left: 102.5, right: 430,
    leftTicks: tempTicks, leftMinor: tempMinorTicks, leftScale: tempY,
    rightTicks: solarTicks, rightMinor: solarMinorTicks, rightScale: solarY});
})();

// ---------- winds panel drawing ----------
(function () {
  const group = document.getElementById('panel-wind');
  const x = dayScale(614.5);
  const windY = linear(0, 399, 30, 132.7);
  const pressureY = linear(960, 375, 985, 71.7);
  gustSpeeds.forEach((v, i) => {
    const dot = setAll(make('circle', group), {cx: x(i * gustStepDays).toFixed(2), cy: windY(v).toFixed(2), r: 2.8, fill: '#000'});
    
    
  });
  gustDenseSpeeds.forEach((v, i) => {
    const dot = setAll(make('circle', group), {cx: x(i * gustDenseStepDays).toFixed(2), cy: windY(v).toFixed(2), r: 2.8, fill: '#000'});
    
    
  });
  const wind = setAll(make('path', group), LINE_STYLE);
  setAll(wind, {d: pathFromStep(windStepDays, windSpeeds, x, windY), stroke: '#5097d3', 'stroke-width': 3.6});
  
  
  drawAxes(group, {top: 71.7, bottom: 399, left: 614.5, right: 942,
    leftTicks: windTicks, leftMinor: windMinorTicks, leftScale: windY,
    rightTicks: pressureTicks, rightMinor: pressureMinorTicks, rightScale: pressureY});
  const pressure = setAll(make('path', group), LINE_STYLE);
  setAll(pressure, {d: pathFrom(pressureDays, pressureValues, x, pressureY), stroke: '#9b1c20', 'stroke-width': 4.4});
  
  
})();

// ---------- humidity panel drawing ----------
(function () {
  const group = document.getElementById('panel-rh');
  const x = dayScale(102.5);
  const rhY = linear(0, 859.7, 100, 532.3);
  const rainY = linear(0, 859.7, 2.5, 578.7);
  const rh = setAll(make('path', group), LINE_STYLE);
  setAll(rh, {d: pathFrom(humidityDays, humidityValues, x, rhY), stroke: '#92cd50', 'stroke-width': 5.4});
  
  
  drawAxes(group, {top: 532.3, bottom: 859.7, left: 102.5, right: 430,
    leftTicks: humidityTicks, leftMinor: humidityMinorTicks, leftScale: rhY,
    rightTicks: rainTicks, rightLabels: rainLabels, rightMinor: rainMinorTicks, rightScale: rainY});
  const rain = setAll(make('path', group), LINE_STYLE);
  setAll(rain, {d: pathFrom(rainDays, rainTotals, x, rainY), stroke: '#4ab54a', 'stroke-width': 11.5});
  
  
})();

// ---------- wind direction panel drawing ----------
(function () {
  const group = document.getElementById('panel-dir');
  const x = dayScale(614.5);
  const dirY = linear(0, 859.7, 360, 532.3);
  dirDays.forEach((d, i) => {
    const bin = Math.min(10, Math.round(dirMph[i] / 2));
    const dot = setAll(make('circle', group), {cx: x(d).toFixed(2), cy: dirY(dirDegrees[i]).toFixed(2), r: 3.1, fill: mphColors[bin]});
    
    
  });
  drawAxes(group, {top: 532.3, bottom: 859.7, left: 614.5, right: 942, gridToRightTick: true,
    leftTicks: directionTicks, leftLabels: directionLabels, leftScale: dirY});
})();

// ---------- colorbar drawing ----------
(function () {
  const group = document.getElementById('colorbar');
  const title = setAll(make('text', group), {x: 1007, y: 587, 'font-size': 16.7, 'text-anchor': 'middle'});
  title.textContent = 'mph';
  
  
  mphColors.forEach((color, i) => {
    const row = mphColors.length - 1 - i;
    const box = setAll(make('rect', group), {x: 953, y: 594 + row * 20.43, width: 30, height: 20.6, fill: color});
    
    
    const text = setAll(make('text', group), {x: 1007.5, y: 609.5 + row * 20.5, 'font-size': 16.7, 'text-anchor': 'middle'});
    text.textContent = mphLabels[i];
    
    
  });
})();
</script>
</svg>
</body>
</html>
